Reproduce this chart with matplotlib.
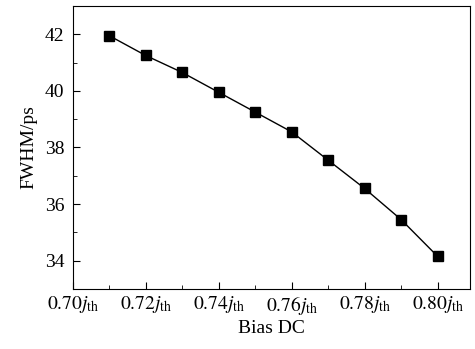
import matplotlib.pyplot as plt
from matplotlib.ticker import MultipleLocator

plt.rcParams['font.family'] = ['Liberation Serif', 'DejaVu Serif']
plt.rcParams['mathtext.fontset'] = 'stix'

# bias current (fraction of threshold) and pulse width
bias = [0.71, 0.72, 0.73, 0.74, 0.75, 0.76, 0.77, 0.78, 0.79, 0.80]
fwhm = [41.95, 41.25, 40.65, 39.95, 39.25, 38.55, 37.55, 36.55, 35.45, 34.15]
xticks = [0.70, 0.72, 0.74, 0.76, 0.78, 0.80]
xlabels = [r'$0.70\mathit{j}_{\rm th}$', r'$0.72\mathit{j}_{\rm th}$', r'$0.74\mathit{j}_{\rm th}$',
           r'$0.76\mathit{j}_{\rm th}$', r'$0.78\mathit{j}_{\rm th}$', r'$0.80\mathit{j}_{\rm th}$']

fig, ax = plt.subplots(figsize=(4.75, 3.49), dpi=100)
fig.subplots_adjust(left=0.153, right=0.989, top=0.983, bottom=0.172)

ax.plot(bias, fwhm, color='black', lw=1, marker='s', ms=6.5)

ax.set_xlim(0.70, 0.8088)
ax.set_ylim(33, 43)
ax.set_xticks(xticks)
ax.set_xticklabels(xlabels)
ax.xaxis.set_minor_locator(MultipleLocator(0.01))
ax.yaxis.set_major_locator(MultipleLocator(2))
ax.yaxis.set_minor_locator(MultipleLocator(1))
ax.tick_params(which='both', direction='in', labelsize=14)
ax.tick_params(which='major', length=5)
ax.tick_params(which='minor', length=3)
ax.tick_params(axis='y', pad=6)

ax.set_xlabel('Bias DC', fontsize=14, labelpad=2)
ax.set_ylabel('FWHM/ps', fontsize=14, labelpad=5)

fig.savefig('out.png')
